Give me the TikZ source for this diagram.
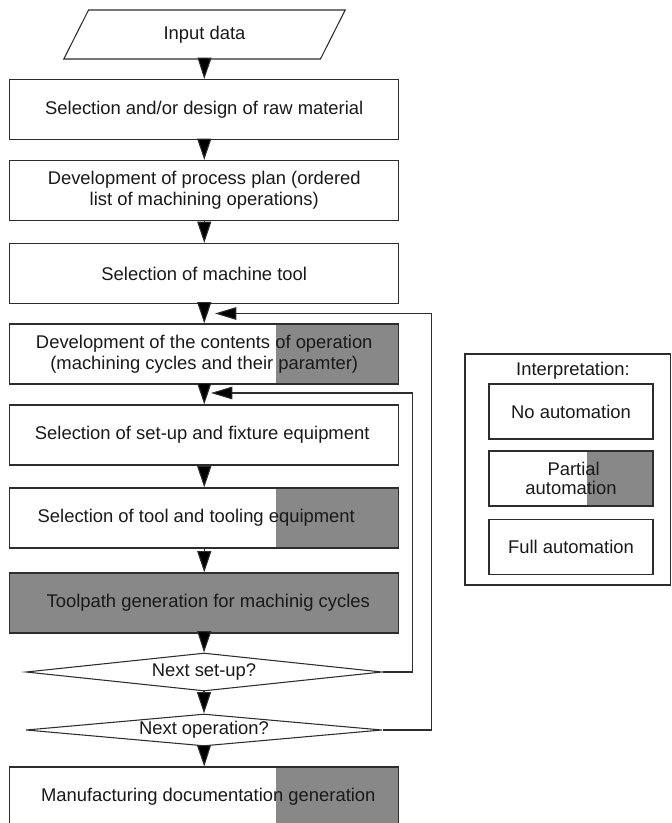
\documentclass[tikz,border=0pt]{standalone}
\usepackage{fontspec}
\setmainfont{Liberation Sans}
\usetikzlibrary{arrows.meta,shapes.geometric}
\definecolor{greyfill}{RGB}{136,136,136}
\definecolor{ln}{RGB}{45,45,45}
\definecolor{txt}{RGB}{25,25,25}
\begin{document}
\begin{tikzpicture}[x=0.75pt,y=-0.75pt,
  font=\fontsize{13.8pt}{15.8pt}\selectfont,
  every node/.style={text=txt},
  box/.style={draw=ln, line width=0.8pt, minimum width=292pt, minimum height=45pt, inner sep=0pt, align=center},
  part/.style={path picture={\fill[greyfill] ([xshift=-92.25pt]path picture bounding box.north east) rectangle (path picture bounding box.south east);}},
  lpart/.style={path picture={\fill[greyfill] ([xshift=-49.5pt]path picture bounding box.north east) rectangle (path picture bounding box.south east);}},
  fullbox/.style={fill=greyfill},
  legbox/.style={draw=ln, line width=0.8pt, minimum width=123pt, minimum height=41.25pt, inner sep=0pt, align=center, font=\fontsize{13.8pt}{14.4pt}\selectfont},
  decision/.style={diamond, draw=ln, line width=0.8pt, inner sep=0pt, aspect=9.4, minimum width=267pt},
  inputbox/.style={trapezium, trapezium left angle=63, trapezium right angle=117, trapezium stretches=true, draw=ln, line width=0.8pt, minimum width=211.5pt, minimum height=36.75pt, inner sep=0pt},
  arr/.style={-{Triangle[length=16pt,width=10.5pt,fill=black]}, line width=0.8pt, draw=ln, shorten <=-1pt},
  harr/.style={-{Triangle[length=16pt,width=9.5pt,fill=black]}, line width=0.8pt, draw=ln}
]
\useasboundingbox (0,0) rectangle (671,823);

\node[inputbox] (inp) at (204.5,34.5) {Input data};
\node[box] (b1) at (204.25,109.5) {Selection and/or design of raw material};
\node[box] (b2) at (204.25,190.5) {Development of process plan (ordered\\list of machining operations)};
\node[box] (b3) at (204.25,273.5) {Selection of machine tool};
\node[box,part] (b4) at (204.25,354) {Development of the contents of operation\\(machining cycles and their paramter)};
\node[box] (b5) at (204.25,435) {Selection of set-up and fixture equipment\phantom{i}};
\node[box,part] (b6) at (204.25,518) {Selection of tool and tooling equipment\hspace{12pt}};
\node[box,fullbox] (b7) at (204.25,603) {\hspace{6pt}Toolpath generation for machinig cycles};
\node[decision, minimum height=28.5pt] (d1) at (204,672) {Next set-up?};
\node[decision, minimum height=24pt] (d2) at (204,730) {Next operation?};
\node[box,part] (b8) at (204.25,797) {\hspace{6pt}Manufacturing documentation generation};

\draw[arr] (inp.south) -- (b1.north);
\draw[arr] (b1) -- (b2);
\draw[arr] (b2) -- (b3);
\draw[arr] (b3) -- (b4);
\draw[arr] (b4) -- (b5);
\draw[arr] (b5) -- (b6);
\draw[arr] (b6) -- (b7);
\draw[arr] (b7.south) -- (d1.north);
\draw[arr] (d1.south) -- (d2.north);
\draw[arr] (d2.south) -- (b8.north);

\coordinate (fb1) at (211,393);
\coordinate (fb2) at (215,313.5);
\draw[harr] (d1.east) -- ++(30,0) |- (fb1);
\draw[harr] (d2.east) -- ++(49,0) |- (fb2);

% legend
\node[draw=ln, line width=0.8pt, minimum width=154.1pt, minimum height=173.25pt, inner sep=0pt] (leg) at (567.75,469.5) {};
\node (legt) at (573,371) {Interpretation:};
\node[legbox] (l1) at (571,411.5) {No automation};
\node[legbox,lpart] (l2) at (571,478.5) {\hspace{4pt}Partial\\automation};
\node[legbox] (l3) at (571,547) {Full automation};
\end{tikzpicture}
\end{document}
